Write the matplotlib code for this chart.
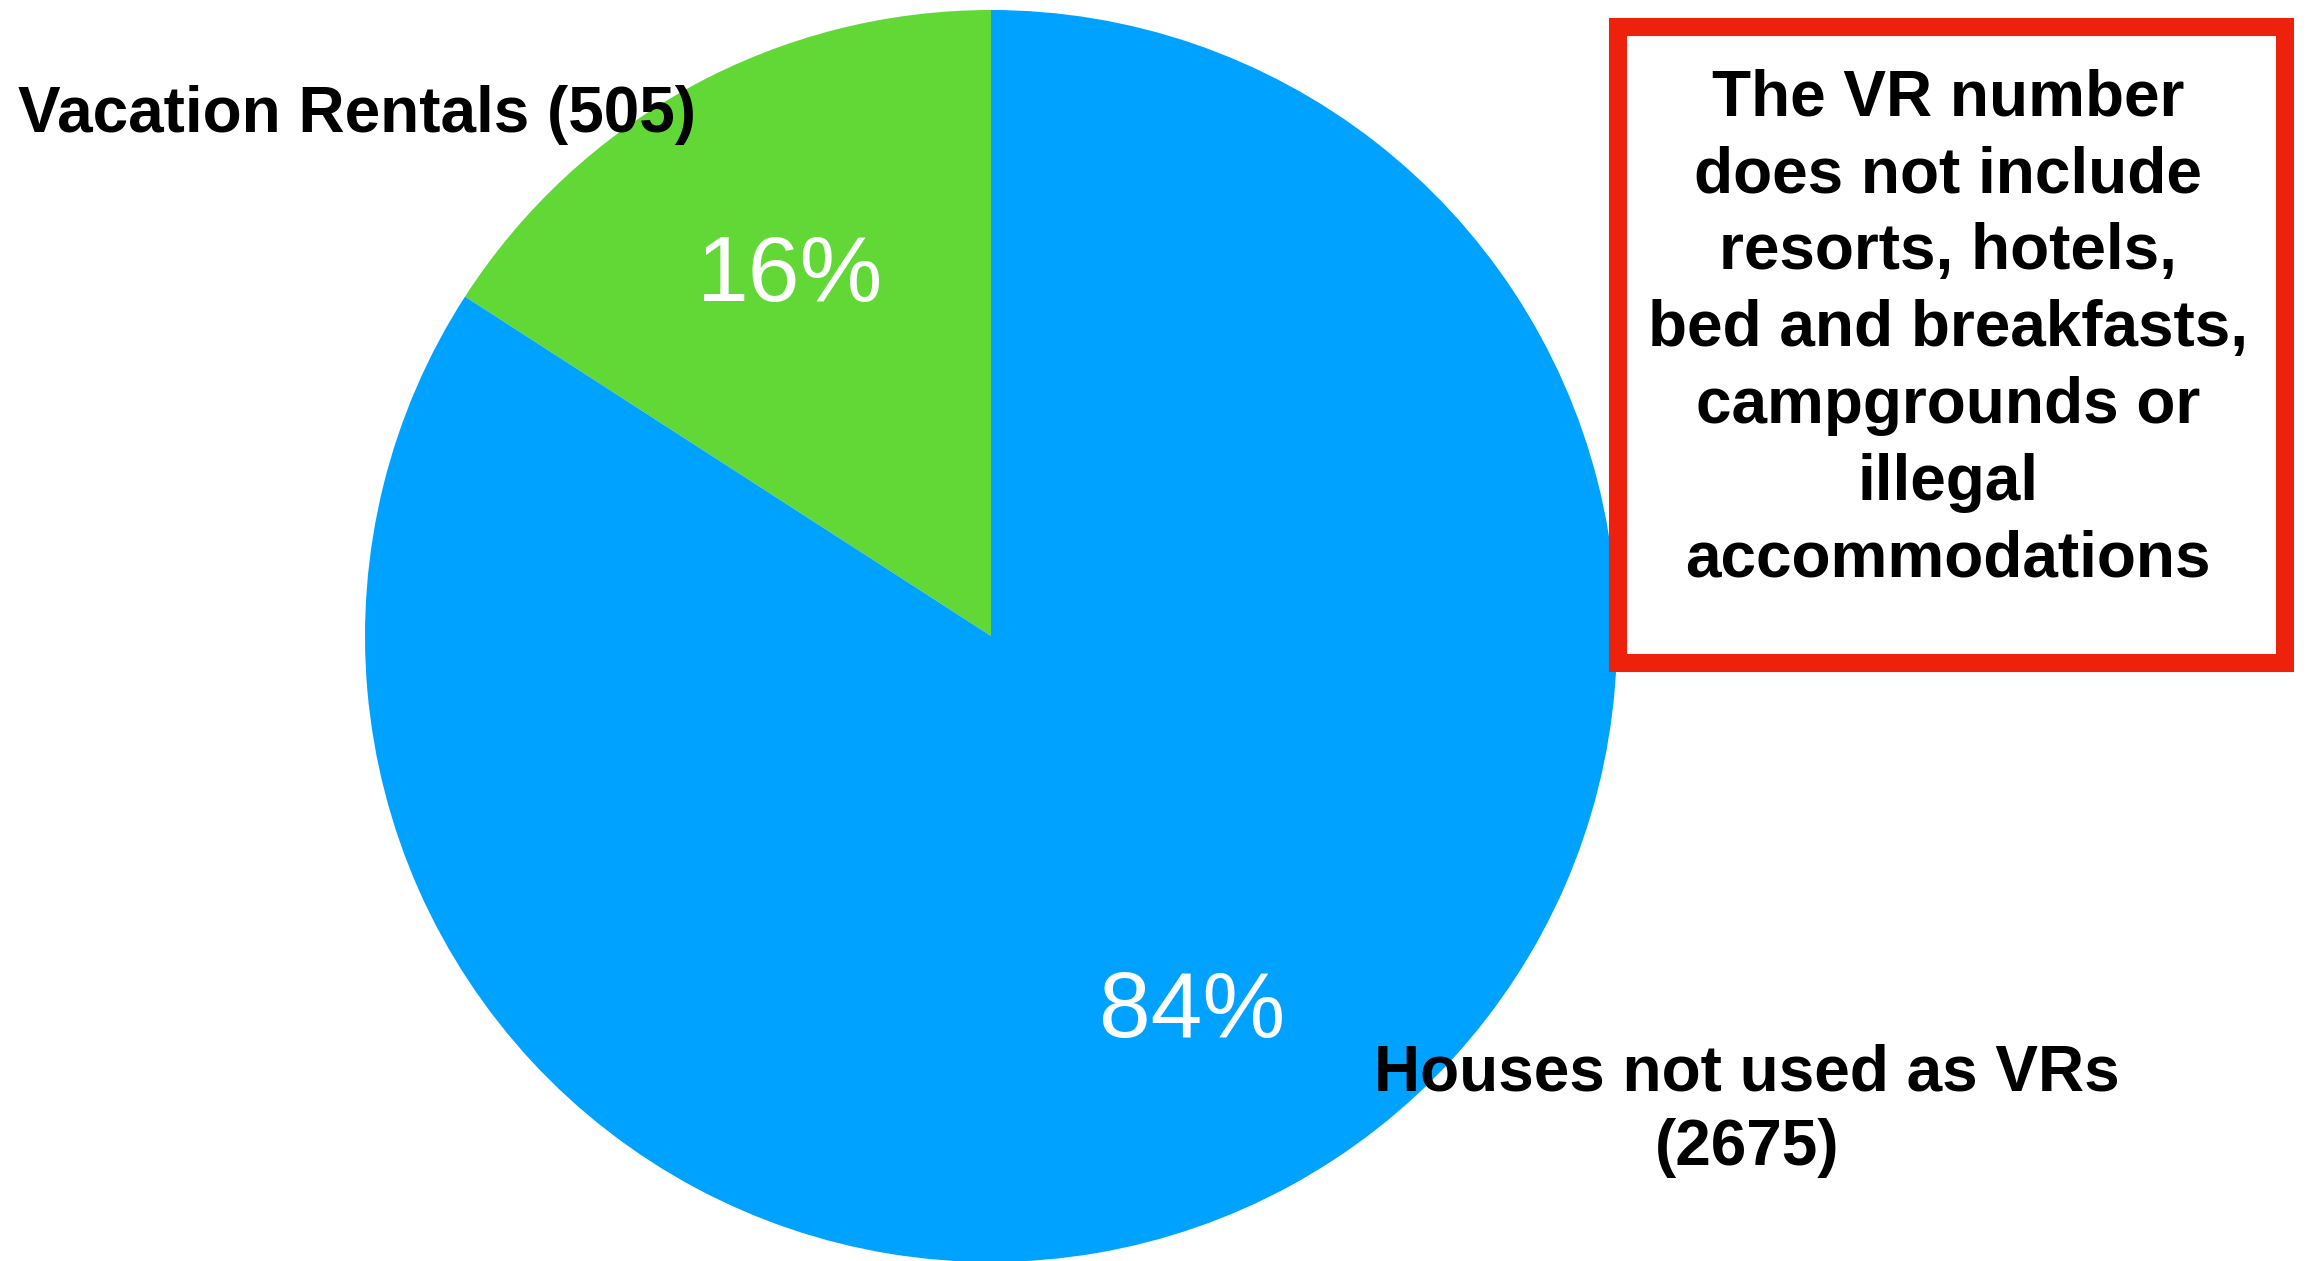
import matplotlib
matplotlib.use("Agg")
import matplotlib.pyplot as plt
from matplotlib.patches import Rectangle

# data
labels = ["Vacation Rentals (505)", "Houses not used as VRs\n(2675)"]
values = [505, 2675]
colors = ["#61D836", "#00A2FF"]
note = "The VR number\ndoes not include\nresorts, hotels,\nbed and breakfasts,\ncampgrounds or\nillegal\naccommodations"

plt.rcParams['font.family'] = ['Liberation Sans', 'DejaVu Sans']

W, H = 2310, 1261
fig = plt.figure(figsize=(W/100, H/100), dpi=100)
ax = fig.add_axes([0, 0, 1, 1])

wedges, texts, autotexts = ax.pie(values, colors=colors, startangle=90, counterclock=True,
                                  center=(991, H-636), radius=626,
                                  autopct="%1.0f%%", pctdistance=0.67,
                                  wedgeprops=dict(linewidth=0),
                                  textprops=dict(color="white", fontsize=67))
for t in autotexts:
    x, y = t.get_position()
    t.set_position((x, y - 9))
ax.set_xlim(0, W)
ax.set_ylim(0, H)
ax.axis("off")

# category labels
ax.text(18, H-115, labels[0], ha="left", va="center", fontsize=46, fontweight="bold")
ax.text(1747, H-1111, labels[1], ha="center", va="center", fontsize=46, fontweight="bold",
        linespacing=1.3, multialignment="center")

# note box
ax.add_patch(Rectangle((1618, H-663), 2285-1618, 663-27, fill=False,
                       edgecolor="#EE220C", linewidth=13))
ax.text(1948, H-329, note, ha="center", va="center", fontsize=46, fontweight="bold",
        linespacing=1.36, multialignment="center")

fig.savefig("out.png", dpi=100)
